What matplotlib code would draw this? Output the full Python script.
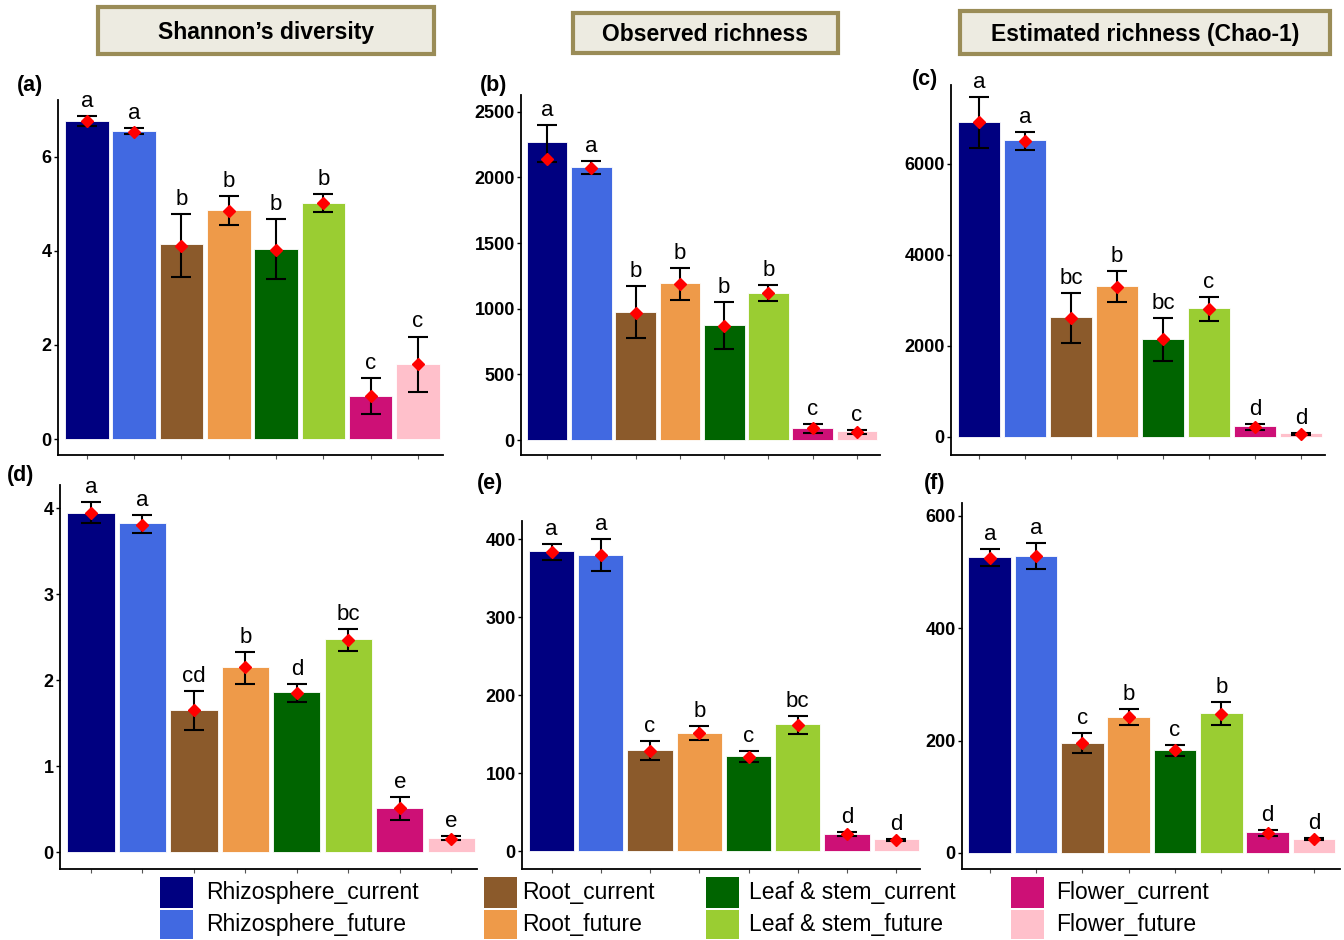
import matplotlib
matplotlib.use("Agg")
import matplotlib.pyplot as plt
from matplotlib.patches import Rectangle

plt.rcParams['font.family'] = ['Liberation Sans', 'DejaVu Sans']

# 分類とカラー
groups = ["Rhizosphere_current", "Rhizosphere_future", "Root_current", "Root_future",
          "Leaf & stem_current", "Leaf & stem_future", "Flower_current", "Flower_future"]
colors = ["#000080", "#4169E1", "#8B5A2B", "#EE9A49",
          "#006400", "#9ACD32", "#CD1076", "#FFC0CB"]

# (a) Shannon's diversity
a_bar = [6.77, 6.55, 4.14, 4.87, 4.04, 5.01, 0.92, 1.60]
a_pt = [6.76, 6.54, 4.11, 4.85, 4.03, 5.01, 0.91, 1.59]
a_lo = [6.66, 6.48, 3.45, 4.55, 3.40, 4.82, 0.53, 1.01]
a_hi = [6.87, 6.62, 4.78, 5.17, 4.67, 5.21, 1.30, 2.18]
a_let = ["a", "a", "b", "b", "b", "b", "c", "c"]

# (b) Observed richness
b_bar = [2267, 2081, 972, 1193, 876, 1122, 89, 66]
b_pt = [2137, 2074, 969, 1188, 870, 1119, 89, 61]
b_lo = [2119, 2026, 777, 1066, 695, 1061, 56, 46]
b_hi = [2401, 2122, 1170, 1312, 1048, 1178, 120, 76]
b_let = ["a", "a", "b", "b", "b", "b", "c", "c"]

# (c) Chao-1
c_bar = [6930, 6521, 2633, 3322, 2156, 2831, 235, 73]
c_pt = [6923, 6499, 2604, 3300, 2143, 2809, 220, 59]
c_lo = [6345, 6301, 2068, 2970, 1665, 2552, 147, 44]
c_hi = [7480, 6710, 3155, 3652, 2618, 3073, 286, 88]
c_let = ["a", "a", "bc", "b", "bc", "c", "d", "d"]

# (d) Shannon's diversity
d_bar = [3.95, 3.83, 1.66, 2.15, 1.86, 2.48, 0.52, 0.17]
d_pt = [3.95, 3.80, 1.65, 2.15, 1.85, 2.47, 0.51, 0.16]
d_lo = [3.83, 3.71, 1.42, 1.96, 1.75, 2.34, 0.38, 0.14]
d_hi = [4.07, 3.92, 1.88, 2.33, 1.96, 2.60, 0.64, 0.19]
d_let = ["a", "a", "cd", "b", "d", "bc", "e", "e"]

# (e) Observed richness
e_bar = [384.7, 380.4, 130.3, 152.4, 122.6, 163.6, 22.2, 16.2]
e_pt = [384.0, 380.0, 129.4, 151.6, 121.7, 162.7, 21.8, 15.0]
e_lo = [373.6, 360.0, 117.4, 143.0, 114.9, 150.7, 19.2, 14.0]
e_hi = [394.5, 400.0, 141.8, 161.0, 129.0, 174.0, 24.8, 15.8]
e_let = ["a", "a", "c", "b", "c", "bc", "d", "d"]

# (f) Chao-1
f_bar = [525.8, 528.2, 195.7, 242.4, 183.2, 249.0, 37.3, 25.4]
f_pt = [524.6, 527.6, 195.1, 241.3, 182.6, 247.9, 35.6, 24.9]
f_lo = [509.8, 504.5, 177.9, 227.0, 173.1, 227.7, 30.8, 23.1]
f_hi = [540.7, 551.4, 213.4, 256.1, 192.6, 268.6, 40.3, 27.3]
f_let = ["a", "a", "c", "b", "c", "b", "d", "d"]

titles = ["Shannon\u2019s diversity", "Observed richness", "Estimated richness (Chao-1)"]

W, H = 1344, 940
fig = plt.figure(figsize=(W / 100, H / 100), dpi=100)


def rect(l, r, t, b):
    return [l / W, 1 - b / H, (r - l) / W, (b - t) / H]


panels = [
    ("(a)", a_bar, a_pt, a_lo, a_hi, a_let, rect(58, 443, 100, 455), (-0.34, 7.21), [0, 2, 4, 6], (0.39, 8.53), (30, 86)),
    ("(b)", b_bar, b_pt, b_lo, b_hi, b_let, rect(521, 880, 95, 455), (-114, 2627), [0, 500, 1000, 1500, 2000, 2500], (0.41, 8.52), (494, 85)),
    ("(c)", c_bar, c_pt, c_lo, c_hi, c_let, rect(951, 1325, 85, 455), (-403, 7737), [0, 2000, 4000, 6000], (0.39, 8.52), (925, 79)),
    ("(d)", d_bar, d_pt, d_lo, d_hi, d_let, rect(60, 477, 485, 869), (-0.194, 4.27), [0, 1, 2, 3, 4], (0.4, 8.5), (21, 475)),
    ("(e)", e_bar, e_pt, e_lo, e_hi, e_let, rect(522, 920, 521, 869), (-22.5, 423.6), [0, 100, 200, 300, 400], (0.4, 8.48), (490, 483)),
    ("(f)", f_bar, f_pt, f_lo, f_hi, f_let, rect(962, 1340, 503, 869), (-28.5, 622.5), [0, 200, 400, 600], (0.4, 8.56), (935, 483)),
]

x = list(range(1, 9))
for tag, bars, pts, lo, hi, lets, pos, ylim, yt, xlim, tpos in panels:
    ax = fig.add_axes(pos)
    ax.bar(x, bars, width=0.92, color=colors, edgecolor="white", linewidth=0.6, zorder=1)
    mid = [(l + h) / 2 for l, h in zip(lo, hi)]
    half = [(h - l) / 2 for l, h in zip(lo, hi)]
    ax.errorbar(x, mid, yerr=half, fmt="none", ecolor="black", elinewidth=1.5,
                capsize=7, capthick=1.5, zorder=2)
    ax.plot(x, pts, linestyle="none", marker="D", color="red", markersize=6.5, zorder=3)
    for xi, h, s in zip(x, hi, lets):
        ax.annotate(s, (xi, h), xytext=(0, 6.5), textcoords="offset points",
                    ha="center", va="baseline", fontsize=16)
    ax.set_xlim(*xlim)
    ax.set_ylim(*ylim)
    ax.set_yticks(yt)
    ax.set_xticks(x)
    ax.set_xticklabels([])
    for sp in ["top", "right"]:
        ax.spines[sp].set_visible(False)
    ax.spines["left"].set_linewidth(1.3)
    ax.spines["bottom"].set_linewidth(1.3)
    ax.tick_params(axis="y", length=3, width=1, pad=1.5, labelsize=13)
    ax.tick_params(axis="x", length=3, width=0.8, color="#555555")
    for lab in ax.get_yticklabels():
        lab.set_fontweight("bold")
    fig.text(tpos[0] / W, 1 - tpos[1] / H, tag, ha="center", va="center",
             fontsize=15.5, fontweight="bold")

# タイトルボックス
boxes = [(98, 434, 7, 54), (573, 838, 13, 53), (960, 1330, 11, 54)]
for (l, r, t, b), s in zip(boxes, titles):
    fig.add_artist(Rectangle((l / W, 1 - b / H), (r - l) / W, (b - t) / H,
                             transform=fig.transFigure, facecolor="#EDEBE1",
                             edgecolor="#9A8C57", linewidth=3))
    fig.text((l + r) / 2 / W, 1 - ((t + b) / 2 + 1.5) / H, s, ha="center", va="center",
             fontsize=16.5, fontweight="bold")

# 凡例
leg_cols = [(160, 206), (484, 522), (706, 749), (1011, 1056)]
leg_rows = [(877, 908), (910, 939)]
for i, (g, c) in enumerate(zip(groups, colors)):
    (sx, tx), (t, b) = leg_cols[i // 2], leg_rows[i % 2]
    fig.add_artist(Rectangle((sx / W, 1 - b / H), 33 / W, (b - t) / H,
                             transform=fig.transFigure, facecolor=c, edgecolor="none"))
    fig.text(tx / W, 1 - (t + b) / 2 / H, g, ha="left", va="center", fontsize=16.5)

fig.savefig("out.png", dpi=100)
